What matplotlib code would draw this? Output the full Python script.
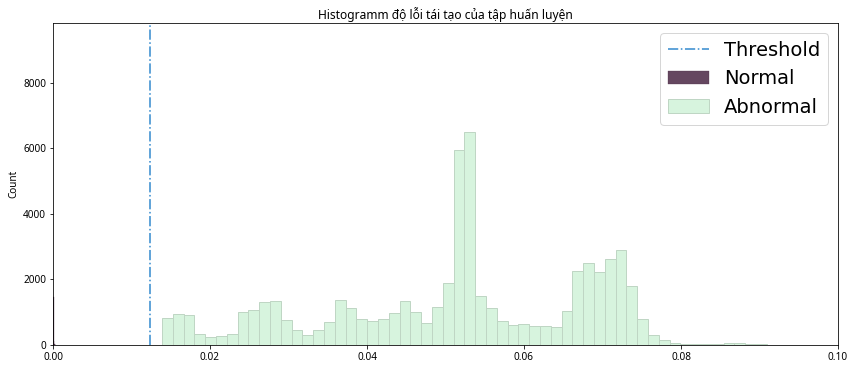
import numpy as np
import matplotlib
matplotlib.use("Agg")
import matplotlib.pyplot as plt

# Histogram data
abnormal_start = 0.01389
abnormal_width = 0.0013758
abnormal_counts = [824, 947, 916, 336, 244, 275, 336, 1008, 1079, 1313,
                   1344, 763, 468, 305, 458, 702, 1384, 1130, 794, 743,
                   804, 977, 1354, 1018, 672, 1160, 1904, 5965, 6515, 1507,
                   1140, 743, 621, 651, 590, 590, 560, 1049, 2270, 2514,
                   2240, 2637, 2911, 1812, 804, 316, 163, 71, 40, 40,
                   40, 40, 71, 71, 40, 40]

normal_start = 0.0
normal_width = 0.00008
normal_counts = [1480, 120, 40, 10]

threshold = 0.01236

# bin edges
ab_edges = abnormal_start + abnormal_width * np.arange(len(abnormal_counts) + 1)
no_edges = normal_start + normal_width * np.arange(len(normal_counts) + 1)

fig = plt.figure(figsize=(856 / 72, 369 / 72), dpi=72)
ax = fig.add_axes([53 / 856, 24 / 369, 785 / 856, 322 / 369])

ax.axvline(threshold, color="#3d8fd0", linestyle="-.", linewidth=1.6, label="Threshold")
ax.hist(no_edges[:-1], bins=no_edges, weights=normal_counts,
        color="#654760", edgecolor="#4a2d45", linewidth=0.3, label="Normal")
ax.hist(ab_edges[:-1], bins=ab_edges, weights=abnormal_counts,
        color="#d7f4de", edgecolor="#bfd6c4", linewidth=1, label="Abnormal")

ax.set_xlim(0, 0.1)
ax.set_ylim(0, 9830)
ax.set_xticks(np.arange(0, 0.101, 0.02))
ax.set_yticks([0, 2000, 4000, 6000, 8000])
ax.xaxis.set_major_formatter(matplotlib.ticker.FormatStrFormatter("%.2f"))
ax.tick_params(labelsize=10)
for lbl in ax.get_xticklabels() + ax.get_yticklabels():
    lbl.set_family("Noto Sans")
ax.set_ylabel("Count", fontsize=10, family="Noto Sans")
ax.set_title("Histogramm độ lỗi tái tạo của tập huấn luyện", fontsize=12,
             family="Noto Sans", pad=4)

ax.legend(loc="upper right", fontsize=19.5, borderaxespad=0.5,
          handlelength=2.1, labelspacing=0.5)

fig.savefig("out.png", dpi=72)
